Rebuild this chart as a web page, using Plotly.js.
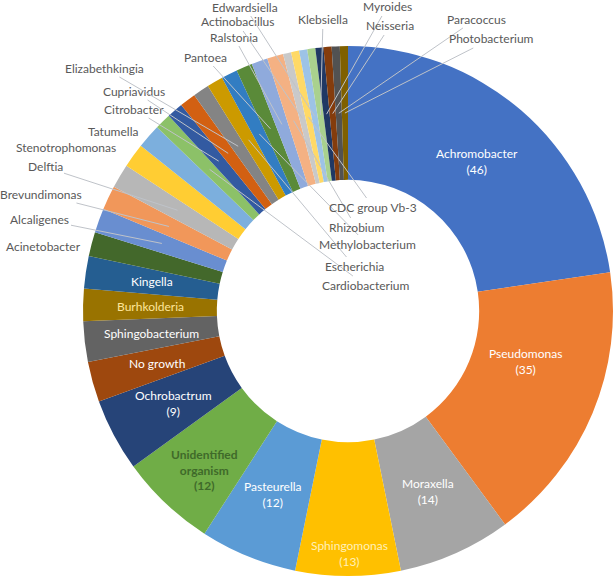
<!DOCTYPE html>
<html>
<head>
<meta charset="utf-8">
<script src="https://cdn.plot.ly/plotly-3.0.1.min.js"></script>
<style>
  body { margin: 0; background: #fff; }
  #chart { width: 616px; height: 580px; }
</style>
</head>
<body>
<div id="chart"></div>
<script>
// organisms, in the order they go round the ring (clockwise from 12 o'clock)
var organisms = ['Achromobacter', 'Pseudomonas', 'Moraxella', 'Sphingomonas', 'Pasteurella',
  'Unidentified organism', 'Ochrobactrum', 'No growth', 'Sphingobacterium', 'Burhkolderia',
  'Kingella', 'Acinetobacter', 'Alcaligenes', 'Brevundimonas', 'Delftia', 'Stenotrophomonas',
  'Tatumella', 'Cardiobacterium', 'Citrobacter', 'Cupriavidus', 'Elizabethkingia', 'Escherichia',
  'Methylobacterium', 'Pantoea', 'Ralstonia', 'Rhizobium', 'Actinobacillus', 'CDC group Vb-3',
  'Edwardsiella', 'Klebsiella', 'Myroides', 'Neisseria', 'Paracoccus', 'Photobacterium'];

var isolates = [46, 35, 14, 13, 12, 12, 9, 5, 5, 4, 4, 3, 3, 3, 3, 3, 3,
  2, 2, 2, 2, 2, 2, 2, 2, 2, 1, 1, 1, 1, 1, 1, 1, 1];

// these ones get the count printed under the name
var withCount = ['Achromobacter', 'Pseudomonas', 'Moraxella', 'Sphingomonas', 'Pasteurella',
  'Unidentified organism', 'Ochrobactrum'];

// office chart palette
var sliceColors = ['#4472C4', '#ED7D31', '#A5A5A5', '#FFC000', '#5B9BD5', '#70AD47',
  '#264478', '#9E480E', '#636363', '#997300', '#255E91', '#43682B',
  '#698ED0', '#F1975A', '#B7B7B7', '#FFCD33', '#7CAFDD', '#8CC168',
  '#335AA1', '#D26012', '#848484', '#CC9A00', '#327DC2', '#5A8A39',
  '#8FAADC', '#F4B183', '#C9C9C9', '#FFD966', '#9DC3E6', '#A9D18E',
  '#203864', '#843C0C', '#525252', '#7F6000'];

// ring geometry (pixels)
var W = 616, H = 580;
var CX = 348, CY = 311, R = 265, RMID = 198;

// labels placed away from the ring (pixel centre of text), last flag = leader line
var farLabels = {
  'Acinetobacter': [43, 246, false],
  'Alcaligenes': [40, 219, true],
  'Brevundimonas': [41, 194, true],
  'Delftia': [45, 167, true],
  'Stenotrophomonas': [66, 147, false],
  'Tatumella': [113, 131, false],
  'Cardiobacterium': [365, 285, true],
  'Citrobacter': [134, 109, true],
  'Cupriavidus': [134, 91, true],
  'Elizabethkingia': [104, 68, true],
  'Escherichia': [354, 266, true],
  'Methylobacterium': [367, 244, true],
  'Pantoea': [205, 57, true],
  'Ralstonia': [234, 37, true],
  'Rhizobium': [356, 227, true],
  'Actinobacillus': [237, 22, true],
  'CDC group Vb-3': [373, 207, true],
  'Edwardsiella': [245, 7, true],
  'Klebsiella': [323, 20, true],
  'Myroides': [387, 7, true],
  'Neisseria': [390, 26, true],
  'Paracoccus': [476, 19, true],
  'Photobacterium': [491, 39, true]
};
// inside labels that were nudged off the ring middle
var nudged = {
  'Pseudomonas': [525, 361],
  'Sphingomonas': [349, 553],
  'Unidentified organism': [204, 470]
};
var insideColor = {
  'Sphingomonas': '#FFF0B8',
  'Burhkolderia': '#FFE699',
  'Unidentified organism': '#3F6A2A'
};

var total = isolates.reduce(function (a, b) { return a + b; }, 0);
var annotations = [];
var run = 0;
organisms.forEach(function (name, i) {
  var mid = (run + isolates[i] / 2) / total * 2 * Math.PI;
  run += isolates[i];
  var tx = CX + RMID * Math.sin(mid);
  var ty = CY - RMID * Math.cos(mid);
  var far = farLabels[name];
  if (far && far[2]) {
    annotations.push({
      xref: 'paper', yref: 'paper',
      x: tx / W, y: 1 - ty / H,
      text: name,
      showarrow: true,
      arrowhead: 0, arrowwidth: 1, arrowcolor: '#BFC3C9', standoff: 0,
      axref: 'pixel', ayref: 'pixel',
      ax: far[0] - tx, ay: far[1] - ty,
      font: { color: '#595959', size: 12 }
    });
    return;
  }
  if (far) {
    // close enough to its slice, no line needed
    annotations.push({
      xref: 'paper', yref: 'paper',
      x: far[0] / W, y: 1 - far[1] / H,
      xanchor: 'center', yanchor: 'middle',
      text: name, showarrow: false,
      font: { color: '#595959', size: 12 }
    });
    return;
  }
  var txt = name;
  if (name == 'Unidentified organism') txt = '<b>Unidentified<br>organism<br>(' + isolates[i] + ')</b>';
  else if (withCount.indexOf(name) >= 0) txt = name + '<br>(' + isolates[i] + ')';
  var p = nudged[name] || [tx, ty];
  annotations.push({
    xref: 'paper', yref: 'paper',
    x: p[0] / W, y: 1 - p[1] / H,
    text: txt, showarrow: false,
    xanchor: 'center', yanchor: 'middle',
    font: { color: insideColor[name] || '#FFFFFF', size: 12 }
  });
});

var donut = {
  type: 'pie',
  labels: organisms,
  values: isolates,
  sort: false,
  direction: 'clockwise',
  rotation: 0,
  hole: 0.495,
  textinfo: 'none',
  hoverinfo: 'label+value',
  marker: { colors: sliceColors, line: { width: 0 } },
  domain: {
    x: [(CX - R) / W, (CX + R) / W],
    y: [1 - (CY + R) / H, 1 - (CY - R) / H]
  }
};

var layout = {
  width: W, height: H,
  margin: { l: 0, r: 0, t: 0, b: 0 },
  showlegend: false,
  paper_bgcolor: '#ffffff',
  font: { family: 'Lato, "Open Sans", sans-serif', size: 12, color: '#595959' },
  annotations: annotations
};

Plotly.newPlot('chart', [donut], layout, { displayModeBar: false, staticPlot: true });
</script>
</body>
</html>
